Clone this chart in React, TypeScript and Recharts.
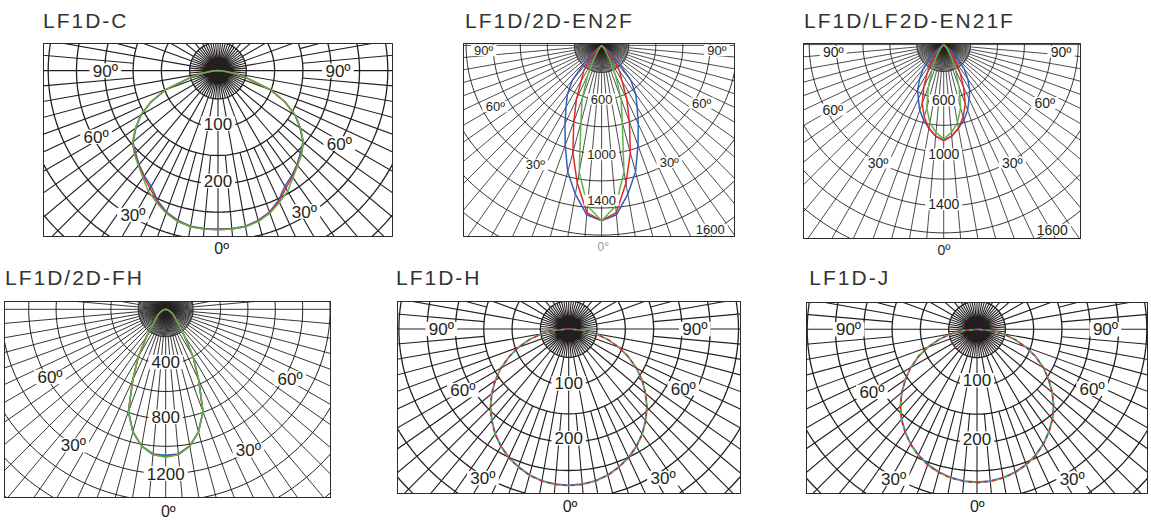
import { ComposedChart, Line, Scatter, XAxis, YAxis } from 'recharts'

// polar light distribution, angle from nadir (0 = straight down), values in cd
const ANGLES = [0, 5, 10, 15, 20, 25, 30, 35, 40, 45, 50, 55, 60, 65, 70, 75, 80, 85, 90]

const C_BLUE = [280, 280, 279, 274, 266, 253, 236, 227, 217, 206, 196, 177, 157, 130, 98, 54, 31, 9, 0]
const C_RED = [281, 281, 280, 275, 267, 255, 240, 229, 218, 208, 197, 178, 158, 131, 99, 55, 32, 10, 0]
const C_GREEN = [281, 281, 280, 276, 268, 257, 246, 231, 219, 209, 197, 178, 158, 131, 99, 55, 32, 10, 0]

const EN2F_BLUE = [1294, 1255, 1115, 967, 785, 640, 525, 440, 335, 170, 60, 15, 0, 0, 0, 0, 0, 0, 0]
const EN2F_RED = [1294, 1240, 1033, 820, 600, 440, 300, 230, 160, 70, 20, 0, 0, 0, 0, 0, 0, 0, 0]
const EN2F_GREEN = [1294, 1190, 950, 590, 420, 240, 120, 50, 15, 0, 0, 0, 0, 0, 0, 0, 0, 0, 0]

const EN21F_BLUE = [711, 684, 632, 580, 520, 446, 387, 312, 238, 149, 74, 30, 7, 0, 0, 0, 0, 0, 0]
const EN21F_RED = [714, 684, 632, 558, 468, 349, 245, 164, 97, 45, 15, 0, 0, 0, 0, 0, 0, 0, 0]
const EN21F_GREEN = [701, 657, 590, 487, 332, 207, 125, 66, 30, 7, 0, 0, 0, 0, 0, 0, 0, 0, 0]

const FH_BLUE = [1066, 1060, 1012, 925, 795, 570, 399, 242, 150, 105, 85, 68, 50, 35, 22, 12, 5, 1, 0]
const FH_RED = [1075, 1064, 1014, 926, 796, 570, 399, 242, 150, 105, 85, 68, 50, 35, 22, 12, 5, 1, 0]
const FH_GREEN = [1080, 1066, 1015, 927, 796, 572, 400, 243, 150, 105, 85, 68, 50, 35, 22, 12, 5, 1, 0]

const H_BLUE = [276, 275, 272, 267, 259, 250, 239, 226, 211, 195, 177, 158, 138, 116, 94, 71, 47, 24, 0]
const H_RED = [277, 276, 273, 268, 260, 251, 240, 227, 212, 196, 178, 159, 139, 117, 95, 72, 48, 24, 0]
const H_GREEN = [277, 276, 273, 268, 260, 251, 240, 227, 212, 196, 178, 159, 139, 117, 95, 72, 48, 24, 0]

const J_BLUE = [270, 269, 266, 261, 254, 245, 234, 221, 207, 191, 173, 154, 135, 114, 92, 69, 46, 23, 0]
const J_RED = [271, 270, 267, 262, 255, 246, 235, 222, 208, 192, 174, 155, 136, 115, 93, 70, 47, 24, 0]
const J_GREEN = [271, 270, 267, 262, 255, 246, 235, 222, 208, 192, 174, 155, 136, 115, 93, 70, 47, 24, 0]

type RingLabel = { text: string; angle: number; r: number }

const C_LABELS: RingLabel[] = [
  { text: '90º', angle: -90, r: 199 },
  { text: '90º', angle: 90, r: 212 },
  { text: '60º', angle: -61.5, r: 245 },
  { text: '60º', angle: 59, r: 250 },
  { text: '30º', angle: -30.5, r: 296 },
  { text: '30º', angle: 31.5, r: 292 },
  { text: '100', angle: 0, r: 94 },
  { text: '200', angle: 0, r: 195 },
]
const EN2F_LABELS: RingLabel[] = [
  { text: '90º', angle: -87.5, r: 871 },
  { text: '90º', angle: 87.5, r: 852 },
  { text: '60º', angle: -60, r: 905 },
  { text: '60º', angle: 60, r: 852 },
  { text: '30º', angle: -29, r: 1007 },
  { text: '30º', angle: 30, r: 999 },
  { text: '600', angle: 0, r: 396 },
  { text: '1000', angle: 0, r: 807 },
  { text: '1400', angle: 0, r: 1142 },
  { text: '1600', angle: 30.6, r: 1575 },
]
const EN21F_LABELS: RingLabel[] = [
  { text: '90º', angle: -86.3, r: 823 },
  { text: '90º', angle: 86.5, r: 875 },
  { text: '60º', angle: -59.6, r: 955 },
  { text: '60º', angle: 60, r: 868 },
  { text: '30º', angle: -29.1, r: 1004 },
  { text: '30º', angle: 30.2, r: 1015 },
  { text: '600', angle: 0, r: 414 },
  { text: '1000', angle: 0, r: 816 },
  { text: '1400', angle: 0, r: 1187 },
  { text: '1600', angle: 30.4, r: 1596 },
]
const FH_LABELS: RingLabel[] = [
  { text: '60º', angle: -59.7, r: 978 },
  { text: '60º', angle: 60.9, r: 1039 },
  { text: '30º', angle: -34.2, r: 1200 },
  { text: '30º', angle: 30.4, r: 1193 },
  { text: '400', angle: 0, r: 385 },
  { text: '800', angle: 0, r: 786 },
  { text: '1200', angle: 0, r: 1199 },
]
const H_LABELS: RingLabel[] = [
  { text: '90º', angle: -90, r: 225 },
  { text: '90º', angle: 90, r: 223 },
  { text: '60º', angle: -60, r: 216 },
  { text: '60º', angle: 62.6, r: 228 },
  { text: '30º', angle: -29.9, r: 304 },
  { text: '30º', angle: 32.3, r: 312 },
  { text: '100', angle: 0, r: 96 },
  { text: '200', angle: 0, r: 193 },
]
const J_LABELS: RingLabel[] = [
  { text: '90º', angle: -90, r: 227 },
  { text: '90º', angle: 90, r: 227 },
  { text: '60º', angle: -59.2, r: 216 },
  { text: '60º', angle: 62.7, r: 229 },
  { text: '30º', angle: -29.2, r: 302 },
  { text: '30º', angle: 32.5, r: 313 },
  { text: '100', angle: 0, r: 90 },
  { text: '200', angle: 0, r: 193 },
]

const BLUE = '#2f5fbf'
const RED = '#e3262a'
const GREEN = '#5cb54a'
const INK = '#231f20'
const FONT = "'Liberation Sans', Arial, Helvetica, sans-serif"

interface Panel {
  key: string
  title: string
  titleX: number
  titleY: number
  zeroText: string
  zeroX: number
  zeroY: number
  zeroSize: number
  zeroColor: string
  left: number
  top: number
  width: number
  height: number
  cx: number
  cy: number
  k: number // px per cd
  ringStep: number
  rings: number
  fine: boolean
  fontSize: number
  ringWidth: number
  spokeWidth: number
  mixed: boolean
  blue: number[]
  red: number[]
  green: number[]
  labels: RingLabel[]
}

const PANELS: Panel[] = [
  {
    key: 'c', title: 'LF1D-C', titleX: 43, titleY: 28.3,
    zeroText: '0º', zeroX: 221.7, zeroY: 254, zeroSize: 16, zeroColor: INK,
    left: 43, top: 43, width: 350, height: 194, cx: 175, cy: 27.6, k: 0.566,
    ringStep: 50, rings: 9, fine: false, fontSize: 17, ringWidth: 1.3, spokeWidth: 1.1, mixed: false,
    blue: C_BLUE, red: C_RED, green: C_GREEN, labels: C_LABELS,
  },
  {
    key: 'en2f', title: 'LF1D/2D-EN2F', titleX: 465, titleY: 28.3,
    zeroText: '0°', zeroX: 603.3, zeroY: 250.5, zeroSize: 12, zeroColor: '#9b9b9b',
    left: 462.7, top: 43.3, width: 272.6, height: 194, cx: 138.6, cy: 2.4, k: 0.1355,
    ringStep: 200, rings: 10, fine: true, fontSize: 13, ringWidth: 0.9, spokeWidth: 0.8, mixed: false,
    blue: EN2F_BLUE, red: EN2F_RED, green: EN2F_GREEN, labels: EN2F_LABELS,
  },
  {
    key: 'en21f', title: 'LF1D/LF2D-EN21F', titleX: 804, titleY: 28.3,
    zeroText: '0º', zeroX: 944, zeroY: 254.5, zeroSize: 14, zeroColor: INK,
    left: 803.3, top: 42.7, width: 277.4, height: 196.6, cx: 140.7, cy: 1.6, k: 0.1345,
    ringStep: 200, rings: 10, fine: true, fontSize: 14, ringWidth: 0.9, spokeWidth: 0.8, mixed: false,
    blue: EN21F_BLUE, red: EN21F_RED, green: EN21F_GREEN, labels: EN21F_LABELS,
  },
  {
    key: 'fh', title: 'LF1D/2D-FH', titleX: 5, titleY: 285,
    zeroText: '0º', zeroX: 168.3, zeroY: 517.4, zeroSize: 16, zeroColor: INK,
    left: 4, top: 300.7, width: 327, height: 197, cx: 161.7, cy: 8.3, k: 0.137,
    ringStep: 200, rings: 10, fine: true, fontSize: 17, ringWidth: 1, spokeWidth: 0.9, mixed: false,
    blue: FH_BLUE, red: FH_RED, green: FH_GREEN, labels: FH_LABELS,
  },
  {
    key: 'h', title: 'LF1D-H', titleX: 396, titleY: 285,
    zeroText: '0º', zeroX: 570, zeroY: 512.4, zeroSize: 16, zeroColor: INK,
    left: 397.3, top: 301, width: 343.4, height: 193, cx: 171.7, cy: 28, k: 0.566,
    ringStep: 50, rings: 9, fine: false, fontSize: 17, ringWidth: 1.3, spokeWidth: 1.1, mixed: true,
    blue: H_BLUE, red: H_RED, green: H_GREEN, labels: H_LABELS,
  },
  {
    key: 'j', title: 'LF1D-J', titleX: 809.3, titleY: 285,
    zeroText: '0º', zeroX: 977.3, zeroY: 512.4, zeroSize: 16, zeroColor: INK,
    left: 805.7, top: 301.7, width: 342, height: 192.3, cx: 171, cy: 27.3, k: 0.566,
    ringStep: 50, rings: 9, fine: false, fontSize: 17, ringWidth: 1.3, spokeWidth: 1.1, mixed: true,
    blue: J_BLUE, red: J_RED, green: J_GREEN, labels: J_LABELS,
  },
]

type Pt = { x: number; y: number | null; text?: string }

const pol = (angle: number, r: number): Pt => {
  const t = (angle * Math.PI) / 180
  return { x: r * Math.sin(t), y: -r * Math.cos(t) }
}

// mirror the 0..90 half-curve to both sides of the nadir
function curve(values: number[]): Pt[] {
  const left = ANGLES.map((a, i) => pol(-a, values[i])).reverse()
  const right = ANGLES.slice(1).map((a, i) => pol(a, values[i + 1]))
  return [...left, ...right]
}

function ringPoints(step: number, count: number): Pt[] {
  const pts: Pt[] = []
  for (let n = 1; n <= count; n++) {
    for (let a = 0; a <= 360; a += 2) pts.push(pol(a, step * n))
    pts.push({ x: 0, y: null })
  }
  return pts
}

function spokePoints(p: Panel): Pt[] {
  const far = p.ringStep * (p.rings + 4)
  const segs: [number, number, number][] = []
  if (p.fine) {
    for (let a = 0; a < 360; a += 5) segs.push([a, 0, far])
    for (let a = 2.5; a < 360; a += 5) segs.push([a, 0, p.ringStep])
  } else {
    for (let a = 0; a < 360; a += 10) segs.push([a, 0, far])
    for (let a = 5; a < 360; a += 10) {
      segs.push([a, 0, p.ringStep])
      segs.push([a, p.ringStep * 3, far])
    }
  }
  const pts: Pt[] = []
  segs.forEach(([a, r0, r1]) => {
    pts.push(pol(a, r0), pol(a, r1), { x: 0, y: null })
  })
  return pts
}

function LabelMark(props: any) {
  const { cx, cy, payload, fontSize } = props
  if (cx == null || cy == null || !payload) return null
  const text: string = payload.text
  const em = [...text].reduce((s, ch) => s + (ch === 'º' || ch === '°' ? 0.4 : 0.556), 0)
  const w = em * fontSize + 6
  const h = fontSize * 0.85
  return (
    <g>
      <rect x={cx - w / 2} y={cy - h / 2} width={w} height={h} fill="#fff" />
      <text x={cx} y={cy + fontSize * 0.36} textAnchor="middle" fontSize={fontSize} fill={INK} fontFamily={FONT}>
        {text}
      </text>
    </g>
  )
}

function PolarPanel({ p }: { p: Panel }) {
  const xDomain = [-p.cx / p.k, (p.width - p.cx) / p.k]
  const yDomain = [-(p.height - p.cy) / p.k, p.cy / p.k]
  const labelPts = p.labels.map((l) => ({ ...pol(l.angle, l.r), text: l.text }))
  const dash = p.mixed ? '4 4' : undefined
  return (
    <div style={{ position: 'absolute', left: p.left, top: p.top, width: p.width, height: p.height }}>
      <ComposedChart width={p.width} height={p.height} margin={{ top: 0, right: 0, bottom: 0, left: 0 }}>
        <XAxis type="number" dataKey="x" domain={xDomain} allowDataOverflow hide />
        <YAxis type="number" dataKey="y" domain={yDomain} allowDataOverflow hide />
        <Line data={ringPoints(p.ringStep, p.rings)} dataKey="y" stroke={INK} strokeWidth={p.ringWidth} dot={false} activeDot={false} isAnimationActive={false} />
        <Line data={spokePoints(p)} dataKey="y" stroke={INK} strokeWidth={p.spokeWidth} dot={false} activeDot={false} isAnimationActive={false} />
        <Scatter data={labelPts} shape={(s: any) => <LabelMark {...s} fontSize={p.fontSize} />} isAnimationActive={false} />
        <Line data={curve(p.blue)} dataKey="y" stroke={BLUE} strokeWidth={1.5} dot={false} activeDot={false} isAnimationActive={false} />
        <Line data={curve(p.red)} dataKey="y" stroke={RED} strokeWidth={1.5} strokeDasharray={dash} dot={false} activeDot={false} isAnimationActive={false} />
        <Line data={curve(p.green)} dataKey="y" stroke={GREEN} strokeWidth={1.5} strokeDasharray={dash} strokeDashoffset={p.mixed ? 4 : 0} dot={false} activeDot={false} isAnimationActive={false} />
      </ComposedChart>
      <div style={{ position: 'absolute', left: 0, top: 0, right: 0, bottom: 0, border: '1.5px solid #2b2b2b', boxSizing: 'border-box', pointerEvents: 'none' }} />
    </div>
  )
}

export default function App() {
  return (
    <div style={{ position: 'absolute', left: 0, top: 0, width: 1151, height: 523, background: '#fff', overflow: 'hidden', fontFamily: FONT }}>
      {PANELS.map((p) => (
        <PolarPanel key={p.key} p={p} />
      ))}
      <svg width={1151} height={523} style={{ position: 'absolute', left: 0, top: 0, pointerEvents: 'none' }}>
        {PANELS.map((p) => (
          <g key={p.key}>
            <text x={p.titleX} y={p.titleY} fontSize={21} letterSpacing={2} fill="#333" fontFamily={FONT}>
              {p.title}
            </text>
            <text x={p.zeroX} y={p.zeroY} textAnchor="middle" fontSize={p.zeroSize} fill={p.zeroColor} fontFamily={FONT}>
              {p.zeroText}
            </text>
          </g>
        ))}
      </svg>
    </div>
  )
}
